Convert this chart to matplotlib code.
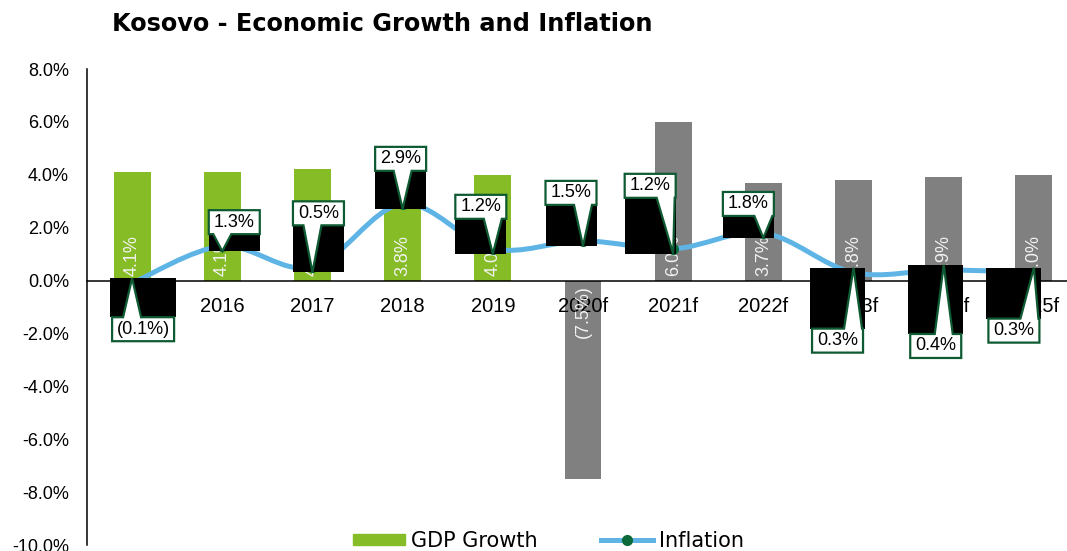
import matplotlib
matplotlib.use("Agg")
import matplotlib.pyplot as plt
from matplotlib.patches import Rectangle, Polygon, PathPatch
from matplotlib.path import Path
from matplotlib.lines import Line2D
from matplotlib.transforms import IdentityTransform

years = ["2015", "2016", "2017", "2018", "2019", "2020f",
         "2021f", "2022f", "2023f", "2024f", "2025f"]
gdp = [4.1, 4.1, 4.2, 3.8, 4.0, -7.5, 6.0, 3.7, 3.8, 3.9, 4.0]
inflation = [-0.1, 1.3, 0.5, 2.9, 1.2, 1.5, 1.2, 1.8, 0.3, 0.4, 0.3]

# callout placement (px): box centre shift, gap from point (+ above / - below)
callout_dx = [11, 12, 6, -2, -12, -12, -23, -15, -16, -8, -20]
callout_gap = [-34, 12, 42, 33, 30, 36, 51, 17, -56, -64, -46]

GREEN = "#86BC25"
GREY = "#808080"
BLUE = "#5DB4E5"
DARK = "#0B6B3A"
EDGE = "#0E5A32"


def pct(v):
    return f"({abs(v):.1f}%)" if v < 0 else f"{v:.1f}%"


def smooth_path(xs, ys):
    """Excel-style smoothed line: cubic Bezier through every point."""
    pts = list(zip(xs, ys))
    n = len(pts)
    verts, codes = [pts[0]], [Path.MOVETO]
    for i in range(n - 1):
        p0 = pts[max(i - 1, 0)]
        p1, p2 = pts[i], pts[i + 1]
        p3 = pts[min(i + 2, n - 1)]
        c1 = (p1[0] + (p2[0] - p0[0]) / 6, p1[1] + (p2[1] - p0[1]) / 6)
        c2 = (p2[0] - (p3[0] - p1[0]) / 6, p2[1] - (p3[1] - p1[1]) / 6)
        verts += [c1, c2, p2]
        codes += [Path.CURVE4] * 3
    return Path(verts, codes)


def callout(ax, x, y, text, dx, gap):
    ident = IdentityTransform()
    px, py = ax.transData.transform((x, y))
    w = 51 if len(text) <= 4 else 62
    h, over = 24, 5
    cx = px + dx
    x0, x1 = cx - w / 2, cx + w / 2
    bx = min(max(px, x0 + 10), x1 - 10)
    if gap > 0:
        yb = py + gap
        yt = yb + h
        tip = py - over
        black = Rectangle((x0, tip), w, yb - tip)
        verts = [(x0, yb), (bx - 9, yb), (px, tip), (bx + 9, yb),
                 (x1, yb), (x1, yt), (x0, yt)]
    else:
        yt = py + gap
        yb = yt - h
        tip = py + over
        black = Rectangle((x0 - 2, yt), w + 4, tip - yt)
        verts = [(x0, yt), (x0, yb), (x1, yb), (x1, yt),
                 (bx + 9, yt), (px, tip), (bx - 9, yt)]
    black.set(facecolor="black", edgecolor="none", transform=ident,
              zorder=6, clip_on=False)
    ax.add_patch(black)
    ax.add_patch(Polygon(verts, closed=True, facecolor="white",
                         edgecolor=EDGE, lw=1.6, transform=ident,
                         zorder=7, clip_on=False, joinstyle="miter"))
    ax.text(cx, (yb + yt) / 2, text, transform=ident, ha="center",
            va="center", fontsize=13, family="Liberation Sans", zorder=8)


fig = plt.figure(figsize=(10.67, 5.51), dpi=100)
ax = fig.add_axes([87 / 1067, 6 / 551, (1079 - 87) / 1067, 476 / 551])
ax.set_xlim(-0.5, len(years) - 0.5)
ax.set_ylim(-10, 8)

xs = list(range(len(years)))
colors = [GREY if y.endswith("f") else GREEN for y in years]
ax.bar(xs, gdp, width=0.41, color=colors, zorder=1)

# value labels inside the bars, anchored at the base
for x, v in zip(xs, gdp):
    off = 5 if v >= 0 else -5
    ax.annotate(pct(v), (x, 0), xytext=(0, off), textcoords="offset pixels",
                rotation=90, rotation_mode="anchor",
                ha="left" if v >= 0 else "right", va="center",
                color="#F2F2F2", fontsize=13, family="Liberation Sans",
                zorder=2)

ax.add_patch(PathPatch(smooth_path(xs, inflation), facecolor="none",
                       edgecolor=BLUE, lw=3.6, capstyle="round", zorder=3))
ax.plot(xs, inflation, "o", color=DARK, ms=7, zorder=4)

for x, v, dx, gap in zip(xs, inflation, callout_dx, callout_gap):
    callout(ax, x, v, pct(v), dx, gap)

# axes styling
for s in ("top", "right"):
    ax.spines[s].set_visible(False)
ax.spines["bottom"].set_position(("data", 0))
ax.spines["bottom"].set_linewidth(1.1)
ax.spines["left"].set_linewidth(1.1)
ax.set_xticks(xs)
ax.set_xticklabels(years, family="Liberation Sans", fontsize=14.5)
ax.tick_params(axis="x", length=0, pad=12)
ax.set_yticks(range(-10, 9, 2))
ax.set_yticklabels([f"{t:.1f}%" for t in range(-10, 9, 2)],
                   family="Liberation Sans", fontsize=13)
ax.tick_params(axis="y", length=0, pad=13)

fig.text(112 / 1067, 1 - 24 / 551, "Kosovo - Economic Growth and Inflation",
         fontsize=17.3, fontweight="bold", family="DejaVu Sans",
         ha="left", va="center")

handles = [Rectangle((0, 0), 1, 1, color=GREEN),
           Line2D([], [], color=BLUE, lw=3.6, marker="o", ms=7,
                  markerfacecolor=DARK, markeredgecolor=DARK)]
fig.legend(handles, ["GDP Growth", "Inflation"], loc="center",
           bbox_to_anchor=(0.514, 10 / 551), ncol=2, frameon=False,
           prop={"family": "DejaVu Sans", "size": 15},
           handlelength=2.5, handleheight=0.45, columnspacing=3.0,
           handletextpad=0.3)

fig.savefig("out.png", dpi=100)
